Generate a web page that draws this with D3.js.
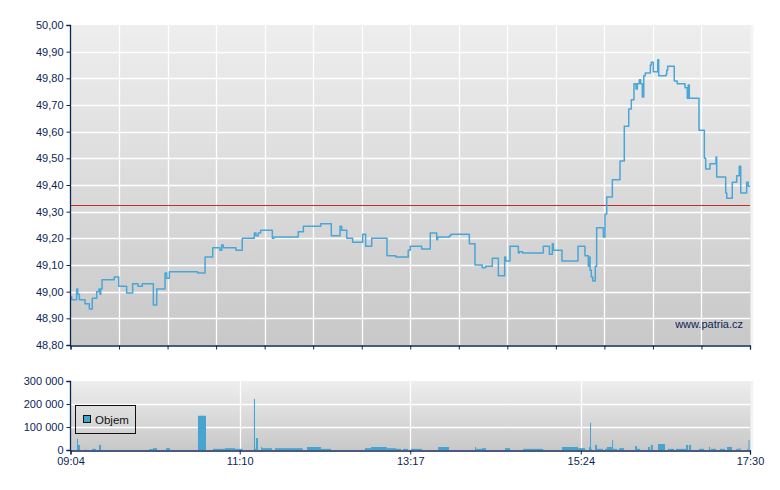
<!DOCTYPE html>
<html><head><meta charset="utf-8">
<script src="https://cdn.jsdelivr.net/npm/d3@7"></script>
<style>body{margin:0;background:#fff}svg{display:block}text{font-family:"Liberation Sans",Arial,sans-serif}</style>
</head><body><svg id="c" width="780" height="490"></svg>
<script>
// minutes since 09:04 and price
const priceTimes = [0,0.9,4.6,5.4,6.6,10.8,14.0,16.2,19.5,21.2,22.0,22.5,23.5,32.6,35.9,41.8,46.3,50.3,53.5,61.7,64.2,70.4,71.6,73.6,94.7,100.2,105.9,111.3,112.6,113.8,123.2,127.9,136.9,138.1,139.8,141.6,150.3,151.5,169.6,173.4,186.3,194.2,200.7,201.9,205.7,210.1,217.6,219.8,224.3,235.7,242.2,251.5,253.0,261.5,267.9,272.7,273.4,282.1,283.3,297.0,301.2,306.6,309.2,314.1,318.6,323.3,324.1,327.3,333.5,334.2,336.7,352.1,356.6,358.8,359.5,366.0,377.9,383.1,385.6,386.3,386.9,387.8,388.9,390.8,391.8,396.8,398.0,399.3,403.5,409.2,412.4,415.7,417.6,419.6,421.1,422.1,423.6,424.6,425.8,426.9,428.0,431.8,432.5,434.0,437.3,438.0,443.5,444.0,444.7,449.6,451.8,457.6,459.3,460.0,460.8,468.0,472.0,473.0,476.2,480.7,481.2,487.9,488.7,492.8,496.1,498.0,499.1,503.5,504.7,506];
const prices = [48.98,48.97,49.01,48.99,48.97,48.955,48.935,48.975,49.00,49.01,48.99,49.01,49.045,49.055,49.02,48.995,49.03,49.02,49.03,48.95,49.01,49.07,49.05,49.075,49.07,49.13,49.165,49.155,49.175,49.165,49.155,49.20,49.22,49.21,49.22,49.23,49.20,49.205,49.225,49.245,49.255,49.21,49.245,49.23,49.20,49.185,49.215,49.17,49.20,49.135,49.13,49.155,49.17,49.16,49.22,49.195,49.205,49.21,49.215,49.18,49.10,49.09,49.095,49.125,49.06,49.13,49.115,49.17,49.145,49.15,49.145,49.17,49.14,49.18,49.155,49.115,49.17,49.135,49.095,49.13,49.08,49.055,49.04,49.095,49.24,49.205,49.29,49.355,49.42,49.49,49.62,49.685,49.72,49.78,49.76,49.78,49.795,49.78,49.73,49.81,49.82,49.85,49.86,49.825,49.87,49.81,49.815,49.83,49.845,49.79,49.78,49.765,49.725,49.775,49.725,49.605,49.50,49.46,49.48,49.505,49.43,49.37,49.35,49.41,49.435,49.47,49.37,49.41,49.395,49.395];
const prevClose = 49.325;
// volume bars: [start minute, end minute, volume]
const volumeBars = [[4.8,5.1,48000],[5.1,7.1,22000],[10.8,11.5,3000],[16.0,19.0,5000],[21.2,22.7,22000],[58.5,61.4,4000],[61.4,64.4,8000],[71.1,74.1,8000],[94.9,100.9,149000],[106.1,115.0,5000],[115.0,122.5,8000],[122.5,128.2,5000],[136.6,137.4,222000],[137.4,138.1,5000],[138.1,139.6,52000],[141.9,142.6,13000],[142.6,150.1,8000],[152.3,172.9,8000],[176.1,186.5,13000],[186.5,194.0,5000],[219.3,223.8,8000],[223.8,235.5,13000],[235.5,242.4,8000],[242.4,246.1,5000],[247.6,251.3,5000],[253.6,261.8,5000],[273.7,281.9,13000],[301.2,302.0,13000],[302.0,306.4,5000],[306.4,309.4,8000],[323.6,327.3,8000],[337.0,351.9,5000],[366.1,378.0,13000],[378.0,383.2,8000],[386.1,386.9,13000],[386.9,387.6,119000],[387.6,388.4,5000],[390.6,392.1,22000],[392.1,396.5,5000],[398.0,399.5,5000],[399.5,403.3,13000],[403.3,404.0,43000],[404.0,407.0,5000],[408.5,412.2,8000],[420.4,421.9,17000],[421.9,424.1,5000],[430.0,431.5,13000],[432.2,433.7,22000],[437.5,442.7,26000],[444.9,449.4,5000],[450.9,458.4,5000],[458.4,459.9,22000],[460.6,462.1,22000],[468.0,471.8,5000],[475.5,476.2,13000],[477.0,480.7,5000],[483.7,487.4,5000],[488.9,492.6,13000],[495.9,498.2,5000],[498.2,498.9,8000],[504.1,504.9,5000],[504.9,505.6,43000]];
const priceTicks = [48.8,48.9,49.0,49.1,49.2,49.3,49.4,49.5,49.6,49.7,49.8,49.9,50.0];
const volTicks = [0,100000,200000,300000];
const timeTickMinutes = [0,126,253,380,506];
const timeTickLabels = ["09:04","11:10","13:17","15:24","17:30"];

const svg = d3.select("#c");
const navy = "#0c2557";
const L = 70.5, R = 750;
const x = d3.scaleLinear().domain([0,506]).range([L,R]);
const y = d3.scaleLinear().domain([48.8,50.0]).range([345,25]);
const yv = d3.scaleLinear().domain([0,300000]).range([450,381]);

const defs = svg.append("defs");
const g1 = defs.append("linearGradient").attr("id","bg").attr("x1",0).attr("x2",0).attr("y1",0).attr("y2",1);
g1.append("stop").attr("offset","0%").attr("stop-color","#eeeeee");
g1.append("stop").attr("offset","100%").attr("stop-color","#c8c8c8");

// backgrounds
svg.append("rect").attr("x",L).attr("y",25).attr("width",R-L+3).attr("height",320).attr("fill","url(#bg)");
svg.append("rect").attr("x",L).attr("y",381).attr("width",R-L+3).attr("height",69).attr("fill","url(#bg)");
svg.append("rect").attr("x",R+0.5).attr("y",25).attr("width",3).attr("height",320).attr("fill","#f4f4f4");
svg.append("rect").attr("x",R+0.5).attr("y",381).attr("width",3).attr("height",69).attr("fill","#f4f4f4");

// main grid
const vgrid = d3.range(1,14).map(i=>506*i/14);
svg.append("g").selectAll("line").data(vgrid).join("line")
  .attr("x1",d=>Math.round(x(d))+0.5).attr("x2",d=>Math.round(x(d))+0.5).attr("y1",25).attr("y2",345)
  .attr("stroke","#fff").attr("stroke-width",1.3);
svg.append("g").selectAll("line").data(priceTicks.slice(1,-1)).join("line")
  .attr("x1",L).attr("x2",R).attr("y1",d=>Math.round(y(d))+0.5).attr("y2",d=>Math.round(y(d))+0.5)
  .attr("stroke","#fff").attr("stroke-width",1.3);

// reference line
svg.append("line").attr("x1",L).attr("x2",R).attr("y1",Math.round(y(prevClose))+0.5).attr("y2",Math.round(y(prevClose))+0.5)
  .attr("stroke","#c0302a").attr("stroke-width",1);

// price line
const pts = priceTimes.map((t,i)=>[t,prices[i]]);
const line = d3.line().x(d=>x(d[0])).y(d=>y(d[1])).curve(d3.curveStepAfter);
svg.append("path").attr("d",line(pts)).attr("fill","none").attr("stroke","#4aa6d6").attr("stroke-width",1.5).attr("stroke-linejoin","round");

// watermark
svg.append("text").attr("x",743).attr("y",328).attr("text-anchor","end").attr("font-size",11).attr("fill",navy).text("www.patria.cz");

// main axes
const ya = svg.append("g").attr("transform",`translate(${L},0)`)
  .call(d3.axisLeft(y).tickValues(priceTicks).tickSize(4).tickPadding(3).tickFormat(d=>d3.format(".2f")(d).replace(".",",")));
const xa = svg.append("g").attr("transform","translate(0,345.5)")
  .call(d3.axisBottom(x).tickValues([0].concat(vgrid,[506])).tickSize(4).tickFormat(""));
[ya,xa].forEach(a=>{a.select(".domain").attr("stroke",navy).attr("stroke-width",1.3);a.selectAll(".tick line").attr("stroke",navy);a.selectAll("text").attr("fill",navy).attr("font-size",11).attr("font-family","Liberation Sans, Arial, sans-serif");});
ya.select(".domain").attr("d",`M-4,25.5H0V345.5H-4`);

// volume grid
svg.append("g").selectAll("line").data(timeTickMinutes.slice(1,-1)).join("line")
  .attr("x1",d=>Math.round(x(d))+0.5).attr("x2",d=>Math.round(x(d))+0.5).attr("y1",381).attr("y2",450)
  .attr("stroke","#fff").attr("stroke-width",1.3);
svg.append("g").selectAll("line").data(volTicks.slice(1,-1)).join("line")
  .attr("x1",L).attr("x2",R).attr("y1",d=>Math.round(yv(d))+0.5).attr("y2",d=>Math.round(yv(d))+0.5)
  .attr("stroke","#fff").attr("stroke-width",1.3);

// volume bars
svg.append("g").selectAll("rect").data(volumeBars).join("rect")
  .attr("x",d=>x(d[0])).attr("width",d=>Math.max(1,x(d[1])-x(d[0])))
  .attr("y",d=>yv(d[2])).attr("height",d=>yv(0)-yv(d[2])).attr("fill","#45a5d0");

// volume axes
const va = svg.append("g").attr("transform",`translate(${L},0)`)
  .call(d3.axisLeft(yv).tickValues(volTicks).tickSize(4).tickPadding(3).tickFormat(d=>d3.format(",")(d).replace(/,/g," ")));
const ta = svg.append("g").attr("transform","translate(0,450.5)")
  .call(d3.axisBottom(x).tickValues(timeTickMinutes).tickSize(4).tickPadding(3).tickFormat((d,i)=>timeTickLabels[i]));
[va,ta].forEach(a=>{a.select(".domain").attr("stroke",navy).attr("stroke-width",1.3);a.selectAll(".tick line").attr("stroke",navy);a.selectAll("text").attr("fill",navy).attr("font-size",11).attr("font-family","Liberation Sans, Arial, sans-serif");});
va.select(".domain").attr("d",`M-4,381.5H0V450.5H-4`);

// legend
svg.append("rect").attr("x",75.5).attr("y",405.5).attr("width",60).attr("height",28).attr("fill","none").attr("stroke","#111").attr("stroke-width",1);
svg.append("rect").attr("x",83.5).attr("y",415.5).attr("width",7).attr("height",7).attr("fill","#45a5d0").attr("stroke","#111").attr("stroke-width",1);
svg.append("text").attr("x",95).attr("y",424).attr("font-size",11.5).attr("fill","#111").text("Objem");
</script></body></html>
